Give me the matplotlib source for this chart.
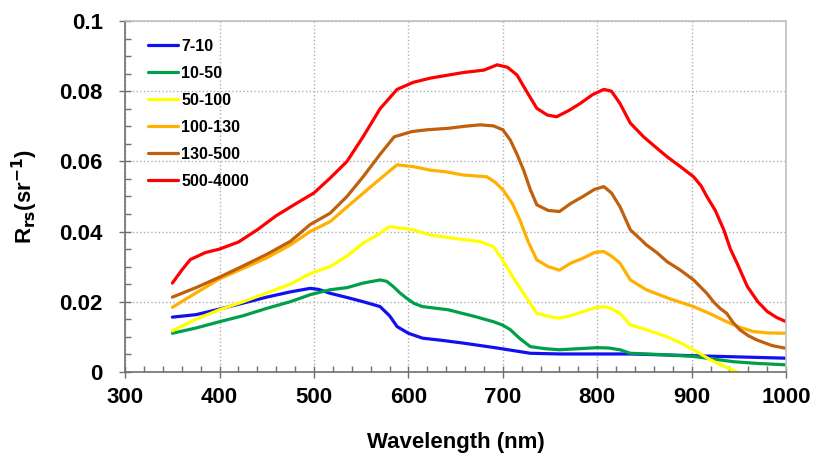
import numpy as np
import matplotlib.pyplot as plt
from matplotlib.ticker import MultipleLocator

plt.rcParams['font.family'] = ['Liberation Sans', 'DejaVu Sans']
plt.rcParams['font.weight'] = 'bold'

# ------------------------------------------
# Spectra (wavelength nm, Rrs sr^-1)
# ------------------------------------------

wl_blue = [350, 375, 400, 425, 450, 475, 496, 505, 517, 535, 552, 570, 580, 588, 600, 615,
           635, 658, 694, 729, 760, 835, 902, 1000]
rrs_blue = [0.0156, 0.0163, 0.0179, 0.0196, 0.0213, 0.0228, 0.0238, 0.0235, 0.0224, 0.0212,
            0.0200, 0.0186, 0.0160, 0.0129, 0.0110, 0.0096, 0.0090, 0.0082, 0.0068, 0.0053,
            0.0051, 0.0051, 0.0046, 0.0039]

wl_green = [350, 375, 400, 425, 450, 475, 496, 517, 535, 552, 570, 577, 584, 591, 598, 606,
            615, 642, 670, 690, 700, 708, 718, 729, 745, 760, 780, 800, 812, 824, 835, 870,
            902, 944, 970, 1000]
rrs_green = [0.0110, 0.0125, 0.0143, 0.0160, 0.0181, 0.0200, 0.0220, 0.0234, 0.0240, 0.0253,
             0.0262, 0.0258, 0.0243, 0.0225, 0.0210, 0.0195, 0.0186, 0.0177, 0.0158, 0.0143,
             0.0133, 0.0120, 0.0095, 0.0072, 0.0066, 0.0063, 0.0066, 0.0069, 0.0068, 0.0063,
             0.0053, 0.0049, 0.0044, 0.0029, 0.0024, 0.0020]

wl_yellow = [350, 375, 400, 425, 450, 475, 496, 517, 535, 552, 567, 580, 592, 605, 623, 650,
             676, 690, 697, 704, 713, 722, 736, 748, 760, 772, 785, 797, 807, 815, 824, 835,
             852, 874, 888, 902, 920, 935, 948]
rrs_yellow = [0.0117, 0.0150, 0.0177, 0.0200, 0.0225, 0.0250, 0.0280, 0.0300, 0.0330, 0.0367,
              0.0390, 0.0414, 0.0410, 0.0405, 0.0390, 0.0380, 0.0371, 0.0357, 0.0330, 0.0300,
              0.0260, 0.0224, 0.0167, 0.0158, 0.0153, 0.0160, 0.0172, 0.0182, 0.0186, 0.0180,
              0.0167, 0.0134, 0.0120, 0.0100, 0.0083, 0.0063, 0.0034, 0.0015, 0.0000]

wl_orange = [350, 375, 400, 425, 450, 475, 496, 517, 535, 552, 570, 588, 605, 623, 640, 658,
             683, 692, 700, 710, 718, 727, 736, 748, 760, 772, 785, 797, 807, 815, 824, 835,
             852, 875, 902, 920, 937, 950, 965, 980, 1000]
rrs_orange = [0.0184, 0.0225, 0.0265, 0.0295, 0.0325, 0.0362, 0.0400, 0.0428, 0.0470, 0.0509,
              0.0550, 0.0590, 0.0585, 0.0575, 0.0570, 0.0561, 0.0556, 0.0540, 0.0519, 0.0480,
              0.0433, 0.0370, 0.0319, 0.0300, 0.0290, 0.0310, 0.0324, 0.0340, 0.0343, 0.0330,
              0.0310, 0.0262, 0.0234, 0.0210, 0.0186, 0.0165, 0.0143, 0.0128, 0.0115, 0.0111,
              0.0110]

wl_brown = [350, 375, 400, 425, 450, 475, 496, 517, 535, 552, 570, 585, 604, 620, 642, 660,
            676, 690, 700, 708, 715, 722, 729, 736, 748, 760, 772, 785, 797, 807, 815, 824,
            835, 845, 852, 863, 874, 888, 902, 916, 923, 930, 937, 944, 951, 960, 969, 985,
            1000]
rrs_brown = [0.0213, 0.0240, 0.0270, 0.0302, 0.0335, 0.0372, 0.0420, 0.0452, 0.0500, 0.0556,
             0.0620, 0.0670, 0.0685, 0.0690, 0.0694, 0.0700, 0.0704, 0.0701, 0.0690, 0.0660,
             0.0620, 0.0575, 0.0520, 0.0476, 0.0460, 0.0457, 0.0480, 0.0500, 0.0520, 0.0528,
             0.0510, 0.0471, 0.0405, 0.0380, 0.0362, 0.0340, 0.0314, 0.0290, 0.0262, 0.0224,
             0.0200, 0.0181, 0.0167, 0.0140, 0.0120, 0.0103, 0.0091, 0.0075, 0.0067]

wl_red = [350, 360, 369, 385, 400, 420, 440, 460, 480, 500, 517, 535, 552, 570, 588, 605,
          623, 658, 680, 694, 705, 715, 725, 736, 747, 757, 770, 782, 795, 807, 815, 824,
          835, 849, 862, 874, 888, 902, 910, 916, 925, 934, 941, 948, 959, 970, 980, 990,
          1000]
rrs_red = [0.0253, 0.0290, 0.0320, 0.0340, 0.0350, 0.0370, 0.0405, 0.0445, 0.0478, 0.0510,
           0.0552, 0.0600, 0.0670, 0.0750, 0.0805, 0.0825, 0.0837, 0.0853, 0.0860, 0.0875,
           0.0868, 0.0846, 0.0800, 0.0751, 0.0732, 0.0727, 0.0745, 0.0765, 0.0790, 0.0805,
           0.0800, 0.0765, 0.0709, 0.0670, 0.0640, 0.0613, 0.0585, 0.0556, 0.0530, 0.0500,
           0.0460, 0.0405, 0.0350, 0.0310, 0.0243, 0.0200, 0.0172, 0.0155, 0.0143]

labels = ["7-10", "10-50", "50-100", "100-130", "130-500", "500-4000"]
colors = ["#1010f0", "#00a04a", "#ffff00", "#ffb000", "#c0600c", "#ff0000"]

series = [
    (wl_blue, rrs_blue),
    (wl_green, rrs_green),
    (wl_yellow, rrs_yellow),
    (wl_orange, rrs_orange),
    (wl_brown, rrs_brown),
    (wl_red, rrs_red),
]

# ------------------------------------------
# Plot
# ------------------------------------------

fig = plt.figure(figsize=(8.18, 4.66), dpi=100)
ax = fig.add_axes([0.153, 0.202, 0.808, 0.753])

for (x, y), lab, col in zip(series, labels, colors):
    ax.plot(x, y, color=col, linewidth=2.3, label=lab,
            solid_joinstyle="round", solid_capstyle="round")

ax.set_xlim(300, 1000)
ax.set_ylim(0, 0.1)

ax.xaxis.set_major_locator(MultipleLocator(100))
ax.xaxis.set_minor_locator(MultipleLocator(20))
ax.yaxis.set_minor_locator(MultipleLocator(0.005))
ax.set_yticks([0, 0.02, 0.04, 0.06, 0.08, 0.1])
ax.set_yticklabels(["0", "0.02", "0.04", "0.06", "0.08", "0.1"])

ax.tick_params(which="major", direction="inout", length=8, width=1, color="#707070",
               labelsize=16)
ax.tick_params(axis="y", which="major", pad=12)
ax.tick_params(axis="x", which="major", pad=7)
ax.tick_params(which="minor", direction="in", length=4, width=1, color="#707070")

ax.grid(True, which="major", color="#b0b0b0", linestyle=":", linewidth=1)

for side in ["left", "bottom"]:
    ax.spines[side].set_color("#707070")
    ax.spines[side].set_linewidth(1.2)
for side in ["top", "right"]:
    ax.spines[side].set_color("#c0c0c0")
    ax.spines[side].set_linewidth(1.2)

ax.set_xlabel("Wavelength (nm)", fontsize=16, fontweight="bold", labelpad=17)
ax.set_ylabel(r"R$_{\mathbf{rs}}$(sr$^{\mathbf{-1}}$)", fontsize=16, fontweight="bold", labelpad=14)

ax.legend(loc="upper left", bbox_to_anchor=(0.01, 0.995), frameon=False,
          fontsize=11.5, handlelength=1.9, handletextpad=0.2, labelspacing=0.75,
          borderaxespad=0.6)

plt.savefig("out.png", dpi=100)
